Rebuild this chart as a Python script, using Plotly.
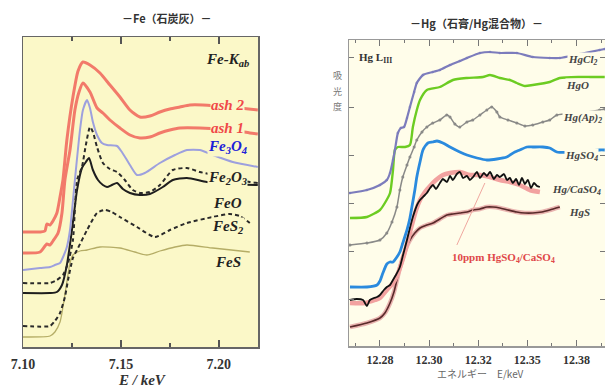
import plotly.graph_objects as go

# ---------------- Fe K-edge (left panel) ----------------
E_ash2 = [7.1000, 7.1087, 7.1112, 7.1122, 7.1138, 7.1153, 7.1173, 7.1189, 7.1204, 7.1224, 7.1255, 7.1281, 7.1306, 7.1342,
          7.1393, 7.1444, 7.1495, 7.1546, 7.1597, 7.1648, 7.1699, 7.1750, 7.1801, 7.1852, 7.1918, 7.2056, 7.2199]
A_ash2 = [1.15, 1.15, 1.16, 1.23, 1.22, 1.26, 1.34, 1.50, 1.67, 2.07, 2.50, 2.76, 2.85, 2.82,
          2.74, 2.62, 2.50, 2.37, 2.30, 2.31, 2.35, 2.38, 2.40, 2.42, 2.42, 2.40, 2.37]

E_ash1 = [7.1000, 7.1087, 7.1122, 7.1138, 7.1153, 7.1179, 7.1199, 7.1214, 7.1240, 7.1265, 7.1286, 7.1306, 7.1342, 7.1378,
          7.1408, 7.1444, 7.1495, 7.1546, 7.1597, 7.1648, 7.1699, 7.1750, 7.1801, 7.1903, 7.2056, 7.2158, 7.2199]
A_ash1 = [0.94, 0.95, 1.03, 1.02, 1.06, 1.14, 1.34, 1.67, 1.97, 2.37, 2.55, 2.64, 2.55, 2.39,
          2.34, 2.27, 2.19, 2.12, 2.09, 2.10, 2.14, 2.17, 2.19, 2.19, 2.17, 2.14, 2.13]

E_fe3o4 = [7.1000, 7.1087, 7.1138, 7.1163, 7.1189, 7.1209, 7.1224, 7.1240, 7.1265, 7.1291, 7.1306, 7.1327, 7.1342, 7.1357,
           7.1378, 7.1403, 7.1429, 7.1480, 7.1505, 7.1546, 7.1582, 7.1622, 7.1699, 7.1776, 7.1837, 7.1903, 7.1969, 7.2071, 7.2199]
A_fe3o4 = [0.77, 0.79, 0.80, 0.82, 0.84, 0.92, 1.00, 1.17, 1.67, 2.17, 2.37, 2.47, 2.39, 2.25,
           2.12, 2.04, 2.02, 2.01, 1.95, 1.82, 1.72, 1.74, 1.84, 1.92, 1.97, 1.97, 1.92, 1.85, 1.80]

E_fe2o3 = [7.1000, 7.1138, 7.1173, 7.1204, 7.1230, 7.1255, 7.1276, 7.1301, 7.1321, 7.1342, 7.1357, 7.1378, 7.1408,
           7.1444, 7.1480, 7.1520, 7.1561, 7.1597, 7.1648, 7.1699, 7.1765, 7.1837, 7.1903, 7.2031, 7.2158, 7.2199]
A_fe2o3 = [0.64, 0.64, 0.67, 0.72, 0.84, 1.07, 1.67, 1.80, 2.02, 2.20, 2.15, 2.00, 1.84,
           1.78, 1.75, 1.67, 1.57, 1.54, 1.55, 1.62, 1.77, 1.79, 1.75, 1.70, 1.65, 1.64]

E_feo = [7.1000, 7.1138, 7.1173, 7.1199, 7.1224, 7.1250, 7.1276, 7.1301, 7.1321, 7.1337, 7.1357, 7.1383, 7.1408,
         7.1429, 7.1454, 7.1480, 7.1510, 7.1546, 7.1597, 7.1648, 7.1714, 7.1765, 7.1837, 7.1939, 7.2056, 7.2199]
A_feo = [0.54, 0.54, 0.55, 0.62, 0.82, 1.17, 1.57, 1.79, 1.85, 1.89, 1.77, 1.67, 1.62,
         1.60, 1.62, 1.64, 1.58, 1.54, 1.52, 1.53, 1.60, 1.67, 1.69, 1.65, 1.63, 1.62]

E_fes2 = [7.1000, 7.1138, 7.1163, 7.1189, 7.1214, 7.1230, 7.1255, 7.1281, 7.1327, 7.1378, 7.1418, 7.1454, 7.1495,
          7.1582, 7.1673, 7.1750, 7.1837, 7.1969, 7.2056, 7.2107, 7.2158]
A_fes2 = [0.21, 0.21, 0.26, 0.34, 0.50, 0.67, 0.89, 0.99, 1.17, 1.34, 1.37, 1.35, 1.30,
          1.20, 1.10, 1.17, 1.24, 1.30, 1.33, 1.31, 1.24]

E_fes = [7.1000, 7.1138, 7.1163, 7.1189, 7.1204, 7.1224, 7.1240, 7.1255, 7.1291, 7.1327, 7.1393, 7.1495, 7.1571,
         7.1633, 7.1699, 7.1776, 7.1837, 7.1969, 7.2158]
A_fes = [0.10, 0.11, 0.15, 0.25, 0.40, 0.65, 0.84, 0.92, 0.96, 0.97, 1.00, 0.99, 0.95,
         0.92, 0.96, 1.00, 1.02, 0.99, 0.95]

fe_tick_vals = [7.10, 7.15, 7.20]
fe_tick_text = ["7.10", "7.15", "7.20"]
fe_minor_vals = [7.125, 7.175]

fe_label_E = 7.2046
fe_labels = ["Fe-K<sub>ab</sub>", "ash 2", "ash 1", "Fe<sub>3</sub>O<sub>4</sub>", "Fe<sub>2</sub>O<sub>3</sub>",
             "FeO", "FeS<sub>2</sub>", "FeS"]
fe_label_A = [2.87, 2.42, 2.19, 2.00, 1.69, 1.44, 1.20, 0.85]
fe_label_col = ["#222222", "#f04848", "#f04848", "#2020d8", "#222222", "#222222", "#222222", "#222222"]

# ---------------- Hg L3-edge (right panel) ----------------
E_hgcl2 = [12.2678, 12.2747, 12.2800, 12.2828, 12.2841, 12.2853, 12.2861, 12.2873, 12.2885, 12.2898, 12.2910, 12.2922,
           12.2939, 12.2950, 12.2975, 12.3015, 12.3044, 12.3085, 12.3125, 12.3154, 12.3207, 12.3248, 12.3288, 12.3357,
           12.3422, 12.3491, 12.3532, 12.3614, 12.3694, 12.3715]
A_hgcl2 = [1.53, 1.56, 1.61, 1.66, 1.73, 1.86, 1.96, 2.13, 2.18, 2.19, 2.28, 2.39,
           2.54, 2.63, 2.71, 2.74, 2.76, 2.81, 2.85, 2.88, 2.93, 2.94, 2.93, 2.93,
           2.89, 2.88, 2.88, 2.92, 2.96, 2.97]

E_hgo = [12.2678, 12.2747, 12.2800, 12.2820, 12.2841, 12.2853, 12.2861, 12.2873, 12.2902, 12.2922, 12.2934, 12.2950,
         12.2963, 12.2991, 12.3044, 12.3097, 12.3154, 12.3219, 12.3248, 12.3288, 12.3329, 12.3357, 12.3390, 12.3422,
         12.3491, 12.3532, 12.3614, 12.3694, 12.3715]
A_hgo = [1.28, 1.29, 1.36, 1.43, 1.53, 1.76, 1.96, 1.99, 1.99, 2.01, 2.19, 2.36,
         2.46, 2.56, 2.59, 2.66, 2.68, 2.69, 2.71, 2.68, 2.66, 2.63, 2.60, 2.61,
         2.64, 2.68, 2.69, 2.69, 2.69]

E_hgap = [12.2678, 12.2747, 12.2800, 12.2828, 12.2849, 12.2869, 12.2881, 12.2893, 12.2910, 12.2922, 12.2939, 12.2950,
          12.2971, 12.2991, 12.3015, 12.3044, 12.3072, 12.3085, 12.3105, 12.3125, 12.3154, 12.3178, 12.3207, 12.3235,
          12.3255, 12.3276, 12.3288, 12.3321, 12.3357, 12.3390, 12.3422, 12.3463, 12.3491, 12.3520, 12.3614, 12.3694, 12.3715]
A_hgap = [1.01, 1.03, 1.06, 1.13, 1.24, 1.39, 1.56, 1.69, 1.81, 1.89, 1.99, 2.06,
          2.14, 2.19, 2.23, 2.26, 2.31, 2.29, 2.22, 2.19, 2.24, 2.26, 2.31, 2.36,
          2.39, 2.34, 2.29, 2.26, 2.23, 2.20, 2.21, 2.24, 2.26, 2.31, 2.33, 2.36, 2.37]

E_hgso4 = [12.2678, 12.2747, 12.2788, 12.2800, 12.2812, 12.2828, 12.2841, 12.2853, 12.2869, 12.2881, 12.2893, 12.2910,
           12.2922, 12.2930, 12.2942, 12.2950, 12.2963, 12.2975, 12.2995, 12.3015, 12.3032, 12.3056, 12.3085, 12.3125,
           12.3154, 12.3195, 12.3235, 12.3276, 12.3316, 12.3349, 12.3369, 12.3398, 12.3422, 12.3463, 12.3491, 12.3520,
           12.3614, 12.3694, 12.3715]
A_hgso4 = [0.59, 0.59, 0.61, 0.65, 0.73, 0.82, 0.84, 0.84, 0.89, 0.94, 1.03, 1.16,
           1.28, 1.39, 1.56, 1.69, 1.84, 1.96, 2.03, 2.04, 2.05, 2.03, 1.99, 1.94,
           1.91, 1.88, 1.86, 1.87, 1.89, 1.94, 1.96, 1.99, 1.99, 1.99, 1.98, 1.94,
           1.94, 1.96, 1.96]

E_hgcaso4 = [12.2678, 12.2706, 12.2731, 12.2747, 12.2759, 12.2776, 12.2788, 12.2800, 12.2816, 12.2828,
             12.2841, 12.2853, 12.2865, 12.2881, 12.2894, 12.2910, 12.2922, 12.2934, 12.2951, 12.2963,
             12.2979, 12.2991, 12.3004, 12.3016, 12.3028, 12.3044, 12.3056, 12.3073, 12.3085, 12.3097,
             12.3113, 12.3126, 12.3138, 12.3154, 12.3166, 12.3179, 12.3195, 12.3207, 12.3223, 12.3235,
             12.3248, 12.3264, 12.3276, 12.3288, 12.3305, 12.3317, 12.3329, 12.3341, 12.3354, 12.3366,
             12.3378, 12.3390, 12.3402, 12.3415, 12.3427, 12.3439, 12.3451]
A_hgcaso4 = [0.46, 0.47, 0.46, 0.40, 0.46, 0.48, 0.49, 0.51, 0.56, 0.59,
             0.61, 0.66, 0.71, 0.79, 0.91, 1.06, 1.18, 1.29, 1.41, 1.46,
             1.50, 1.53, 1.58, 1.61, 1.57, 1.63, 1.67, 1.64, 1.70, 1.66,
             1.72, 1.74, 1.68, 1.70, 1.66, 1.69, 1.74, 1.68, 1.73, 1.70,
             1.74, 1.67, 1.71, 1.69, 1.72, 1.66, 1.68, 1.63, 1.67, 1.61,
             1.68, 1.62, 1.66, 1.58, 1.63, 1.60, 1.59]

E_10ppm = [12.2678, 12.2739, 12.2780, 12.2800, 12.2828, 12.2853, 12.2869, 12.2881, 12.2898, 12.2914, 12.2930, 12.2947,
           12.2963, 12.2983, 12.3004, 12.3028, 12.3056, 12.3085, 12.3126, 12.3166, 12.3207, 12.3248, 12.3288, 12.3329,
           12.3369, 12.3410, 12.3451]
A_10ppm = [0.43, 0.43, 0.46, 0.48, 0.56, 0.63, 0.70, 0.78, 0.91, 1.06, 1.21, 1.36,
           1.46, 1.54, 1.60, 1.66, 1.71, 1.73, 1.74, 1.71, 1.71, 1.69, 1.66, 1.64,
           1.61, 1.56, 1.54]

E_hgs = [12.2678, 12.2747, 12.2800, 12.2820, 12.2841, 12.2857, 12.2869, 12.2881, 12.2894, 12.2910, 12.2922, 12.2942,
         12.2963, 12.2991, 12.3016, 12.3044, 12.3073, 12.3097, 12.3126, 12.3154, 12.3179, 12.3207, 12.3235, 12.3260,
         12.3288, 12.3321, 12.3357, 12.3390, 12.3422, 12.3459, 12.3491, 12.3532]
A_hgs = [0.19, 0.23, 0.28, 0.33, 0.43, 0.54, 0.66, 0.78, 0.89, 1.00, 1.06, 1.13,
         1.18, 1.21, 1.23, 1.27, 1.31, 1.32, 1.33, 1.34, 1.36, 1.37, 1.39, 1.39,
         1.38, 1.36, 1.34, 1.33, 1.33, 1.34, 1.36, 1.39]

hg_tick_vals = [12.28, 12.30, 12.32, 12.34, 12.36]
hg_tick_text = ["12.28", "12.30", "12.32", "12.35", "12.38"]
hg_minor_vals = [12.27, 12.29, 12.31, 12.33, 12.35, 12.37]
hg_ytick_vals = [0.47, 0.95, 1.43, 1.91, 2.39, 2.89]

hg_labels = ["HgCl<sub>2</sub>", "HgO", "Hg(Ap)<sub>2</sub>", "HgSO<sub>4</sub>", "Hg/CaSO<sub>4</sub>", "HgS"]
hg_label_E = [12.3626, 12.3606, 12.3626, 12.3622, 12.3602, 12.3614]
hg_label_A = [2.86, 2.61, 2.28, 1.90, 1.56, 1.34]

ppm_label = "10ppm HgSO<sub>4</sub>/CaSO<sub>4</sub>"
ppm_label_pos = (12.3301, 0.88)
ppm_leader = (12.3227, 1.63, 12.3113, 1.01)

LEFT_BG = "#fbf8c8"
RIGHT_BG = "#fffdea"
SERIF = "Liberation Serif"
CJK = "Noto Sans CJK JP"

fig = go.Figure()

def add(x, y, color, width, ax="x", ay="y", dash="solid", mode="lines", msize=0):
    fig.add_trace(go.Scatter(x=x, y=y, mode=mode, xaxis=ax, yaxis=ay,
                             line=dict(color=color, width=width, dash=dash, shape="spline", smoothing=0.6),
                             marker=dict(size=msize, color=color),
                             hoverinfo="skip", showlegend=False))

# left traces
add(E_fes, A_fes, "#b5ad66", 1.3)
add(E_fes2, A_fes2, "#2a2a2a", 2, dash="4px,3px")
add(E_feo, A_feo, "#1e1e1e", 2)
add(E_fe2o3, A_fe2o3, "#2a2a2a", 2, dash="4px,3px")
add(E_fe3o4, A_fe3o4, "#9da0de", 2)
add(E_ash1, A_ash1, "#f27a6a", 3)
add(E_ash2, A_ash2, "#f27a6a", 3)

# right traces
add(E_hgs, A_hgs, "#e9b4b0", 4.5, "x2", "y2")
add(E_hgs, A_hgs, "#5a2a2a", 1.6, "x2", "y2")
add(E_10ppm, A_10ppm, "#f2a2a0", 4.5, "x2", "y2")
add(E_hgcaso4, A_hgcaso4, "#111111", 1.8, "x2", "y2")
add(E_hgso4, A_hgso4, "#2a8ade", 2.8, "x2", "y2")
add(E_hgap, A_hgap, "#8a8a88", 1.5, "x2", "y2", mode="lines+markers", msize=3)
add(E_hgo, A_hgo, "#6ccc22", 2.4, "x2", "y2")
add(E_hgcl2, A_hgcl2, "#7c7cbc", 2.2, "x2", "y2", mode="lines+markers", msize=2.5)

annotations = []
for t, a, c in zip(fe_labels, fe_label_A, fe_label_col):
    annotations.append(dict(x=fe_label_E, y=a, xref="x", yref="y", text=t, showarrow=False,
                            xanchor="center", yanchor="middle", bgcolor=LEFT_BG, borderpad=0,
                            font=dict(family=SERIF, size=15, color=c, weight="bold", style="italic")))
for t, e, a in zip(hg_labels, hg_label_E, hg_label_A):
    annotations.append(dict(x=e, y=a, xref="x2", yref="y2", text=t, showarrow=False,
                            xanchor="center", yanchor="middle", bgcolor=RIGHT_BG, borderpad=0,
                            font=dict(family=SERIF, size=11, color="#444444", weight="bold", style="italic")))
annotations.append(dict(x=ppm_label_pos[0], y=ppm_label_pos[1], xref="x2", yref="y2", text=ppm_label,
                        showarrow=False, xanchor="center", yanchor="middle",
                        font=dict(family=SERIF, size=11, color="#e04848", weight="bold")))
annotations.append(dict(x=12.2780, y=2.88, xref="x2", yref="y2", text="Hg L<sub>III</sub>", showarrow=False,
                        xanchor="center", yanchor="middle",
                        font=dict(family=SERIF, size=11, color="#333333", weight="bold")))

paper_texts = [
    ("－Fe（石炭灰）－", 167, 18, CJK, 11, "#333333", "bold", "normal"),
    ("－Hg（石膏/Hg混合物）－", 477, 23, CJK, 11, "#333333", "bold", "normal"),
    ("E / keV", 142, 380, SERIF, 15, "#333333", "bold", "italic"),
    ("エネルギー　E/keV", 480, 373, CJK, 10, "#666666", "normal", "normal"),
    ("吸", 337, 76, CJK, 9, "#777777", "normal", "normal"),
    ("光", 337, 91, CJK, 9, "#777777", "normal", "normal"),
    ("度", 337, 106, CJK, 9, "#777777", "normal", "normal"),
]
for t, px, py, fam, sz, col, wt, st in paper_texts:
    annotations.append(dict(x=px / 605, y=1 - py / 387, xref="paper", yref="paper", text=t, showarrow=False,
                            xanchor="center", yanchor="middle",
                            font=dict(family=fam, size=sz, color=col, weight=wt, style=st)))

shapes = [
    dict(type="rect", xref="x domain", yref="y domain", x0=0, x1=1, y0=0, y1=1,
         fillcolor=LEFT_BG, line=dict(width=0), layer="below"),
    dict(type="rect", xref="x2 domain", yref="y2 domain", x0=0, x1=1, y0=0, y1=1,
         fillcolor=RIGHT_BG, line=dict(width=0), layer="below"),
    dict(type="line", xref="x2", yref="y2", x0=ppm_leader[0], y0=ppm_leader[1], x1=ppm_leader[2], y1=ppm_leader[3],
         line=dict(color="#f0a8a0", width=1)),
]

fig.update_layout(
    width=605, height=387, margin=dict(l=0, r=0, t=0, b=0, autoexpand=False),
    paper_bgcolor="white", plot_bgcolor="rgba(0,0,0,0)",
    annotations=annotations, shapes=shapes, showlegend=False,
    xaxis=dict(domain=[23 / 605, 258 / 605], range=[7.10, 7.22], tickvals=fe_tick_vals, ticktext=fe_tick_text,
               ticks="inside", ticklen=7, tickwidth=1.5, tickcolor="#555555", showline=True, linecolor="#666666",
               linewidth=1.5, mirror="ticks", showgrid=False, zeroline=False, ticklabelstandoff=4,
               minor=dict(tickvals=fe_minor_vals, ticks="inside", ticklen=4, tickcolor="#555555"),
               tickfont=dict(family=SERIF, size=14, color="#333333", weight="bold")),
    yaxis=dict(domain=[40 / 387, 350 / 387], range=[0, 3.10], showticklabels=False, ticks="",
               showline=True, linecolor="#666666", linewidth=1.5, mirror=True, showgrid=False, zeroline=False),
    xaxis2=dict(domain=[349 / 605, 1.0], range=[12.2674, 12.3716], tickvals=hg_tick_vals, ticktext=hg_tick_text,
                anchor="y2", ticks="inside", ticklen=6, tickcolor="#777777", showline=True, linecolor="#999999",
                linewidth=1.5, mirror="ticks", showgrid=False, zeroline=False, ticklabelstandoff=2,
                minor=dict(tickvals=hg_minor_vals, ticks="inside", ticklen=3, tickcolor="#777777"),
                tickfont=dict(family=SERIF, size=12, color="#333333", weight="bold")),
    yaxis2=dict(domain=[41 / 387, 347 / 387], range=[0, 3.06], anchor="x2", showticklabels=False,
                tickvals=hg_ytick_vals, ticks="inside", ticklen=5, tickcolor="#777777",
                showline=True, linecolor="#999999", linewidth=1.5, mirror="ticks", showgrid=False, zeroline=False),
)

fig.write_html("out.html", config={"displayModeBar": False, "staticPlot": True},
               post_script="document.body.style.margin='0';document.body.style.padding='0';")
